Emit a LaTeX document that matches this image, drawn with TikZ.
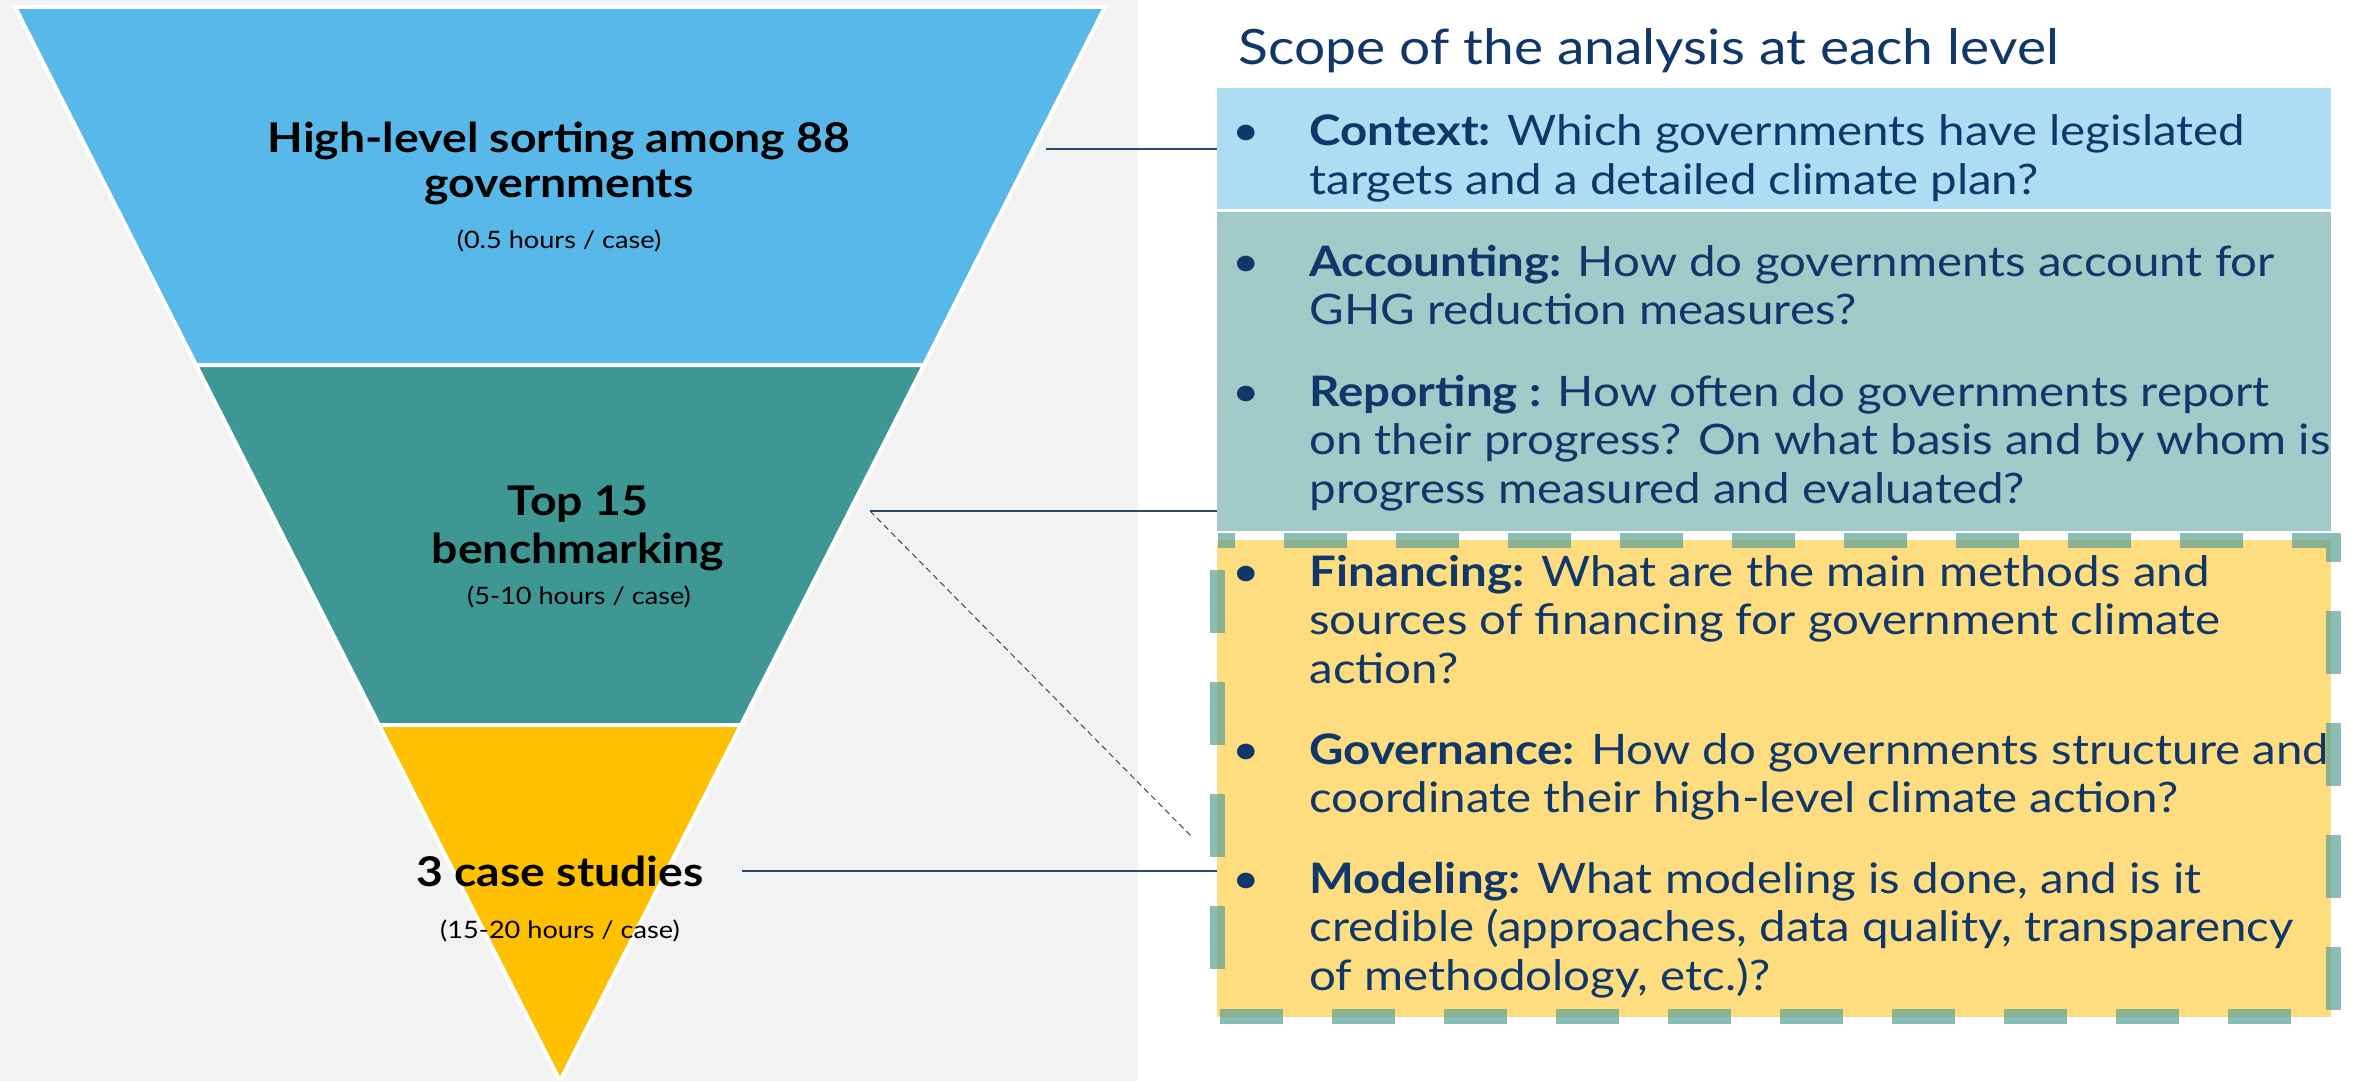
\documentclass[tikz,border=0pt]{standalone}
\usepackage{fontspec}
\setmainfont{Lato}[FakeStretch=1.13]
\definecolor{bgray}{HTML}{F2F2F2}
\definecolor{fblue}{HTML}{58B8E9}
\definecolor{fteal}{HTML}{3F9794}
\definecolor{fyellow}{HTML}{FFC000}
\definecolor{bxblue}{HTML}{ADDDF3}
\definecolor{bxteal}{HTML}{A1CAC8}
\definecolor{bxyellow}{HTML}{FEDD80}
\definecolor{dashc}{HTML}{5AA199}
\definecolor{navy}{HTML}{10376A}
\definecolor{conn}{HTML}{2B4A6B}
\newcommand{\mypara}[1]{\parbox[t]{580pt}{\raggedright #1}}
\tikzset{
 seg/.style={draw=white, line width=2pt, line join=miter},
 head/.style={font=\fontsize{20.5}{22.5}\selectfont\bfseries, text=black, inner sep=0, anchor=base},
 sub/.style={font=\fontsize{12}{14}\selectfont, text=black, inner sep=0, anchor=base},
 bul/.style={font=\fontsize{21}{24.25}\selectfont, text=navy, inner sep=0, anchor=base},
 para/.style={font=\fontsize{21}{24.25}\selectfont, text=navy, inner sep=0, anchor=base west},
 conline/.style={draw=conn, line width=0.75pt},
 condash/.style={draw=conn, line width=0.5pt, dash pattern=on 3pt off 2pt},
 box/.style={inner sep=0, outer sep=0, anchor=north west, draw=none, minimum width=557pt},
 dashborder/.style={draw=dashc, draw opacity=0.7, line width=7.5pt, dash pattern=on 31.5pt off 24.5pt, dash phase=23pt},
}
\begin{document}
\begin{tikzpicture}[x=0.5pt,y=-0.5pt]
\useasboundingbox (0,0) rectangle (2354,1081);
\fill[white] (0,0) rectangle (2354,1081);
\fill[bgray] (0,0) rectangle (1138,1081);
% funnel
\filldraw[seg, fill=fblue] (15,7) -- (1105,7) -- (924,365) -- (196,365) -- cycle;
\filldraw[seg, fill=fteal] (196,365) -- (924,365) -- (741,725) -- (379,725) -- cycle;
\filldraw[seg, fill=fyellow] (379,725) -- (741,725) -- (560,1081) -- cycle;
% funnel texts
\node[head] (h1) at (559,152) {High-level sorting among 88};
\node[head] (h1b) at (559,197) {governments};
\node[sub] (s1) at (559,248) {(0.5 hours / case)};
\node[head] (h2) at (578,515) {Top 15};
\node[head] (h2b) at (578,563) {benchmarking};
\node[sub] (s2) at (579,604) {(5-10 hours / case)};
\node[head] (h3) at (560,886) {3 case studies};
\node[sub] (s3) at (560,938) {(15-20 hours / case)};
% boxes
\node[box, fill=bxblue, minimum height=60.5pt] (ctx) at (1217,88) {};
\node[box, fill=bxteal, minimum height=159.5pt] (tbx) at (1217,212) {};
\node[box, fill=bxyellow, minimum height=238.5pt] (ybx) at (1217,540) {};
% connectors
\coordinate (p1) at (1046,149);
\draw[conline] (p1) -- (p1 -| ctx.west);
\coordinate (p2) at (870,511);
\draw[conline] (p2) -- (p2 -| tbx.west);
\coordinate (p2e) at (1193,838);
\draw[condash] (p2) -- (p2e);
\coordinate (p3) at (742,871);
\draw[conline] (p3) -- (p3 -| ybx.west);
% dashed border
\coordinate (dtl) at (1217.5,540);
\coordinate (dtr) at (2333,540);
\coordinate (dbr) at (2333,1016);
\coordinate (dbl) at (1217.5,1016);
\draw[dashborder] (dtl) -- (dtr) -- (dbr) -- (dbl) -- cycle;
% title
\node[anchor=base west, font=\fontsize{24.4}{30}\selectfont, text=navy, inner sep=0] (title) at (1238,65) {Scope of the analysis at each level};
% bullets
\node[bul] (b1) at (1246,146) {•};
\node[para] (t1) at (1309,146) {\mypara{\textbf{Context:} Which governments have legislated\\targets and a detailed climate plan?}};
\node[bul] (b2) at (1246,276) {•};
\node[para] (t2) at (1309,276) {\mypara{\textbf{Accounting:} How do governments account for\\GHG reduction measures?}};
\node[bul] (b3) at (1246,406) {•};
\node[para] (t3) at (1309,406) {\mypara{\textbf{Reporting :} How often do governments report\\on their progress? On what basis and by whom is\\progress measured and evaluated?}};
\node[bul] (b4) at (1246,586) {•};
\node[para] (t4) at (1309,586) {\mypara{\textbf{Financing:} What are the main methods and\\sources of financing for government climate\\action?}};
\node[bul] (b5) at (1246,764) {•};
\node[para] (t5) at (1309,764) {\mypara{\textbf{Governance:} How do governments structure and\\coordinate their high-level climate action?}};
\node[bul] (b6) at (1246,893) {•};
\node[para] (t6) at (1309,893) {\mypara{\textbf{Modeling:} What modeling is done, and is it\\credible (approaches, data quality, transparency\\of methodology, etc.)?}};
\end{tikzpicture}
\end{document}
